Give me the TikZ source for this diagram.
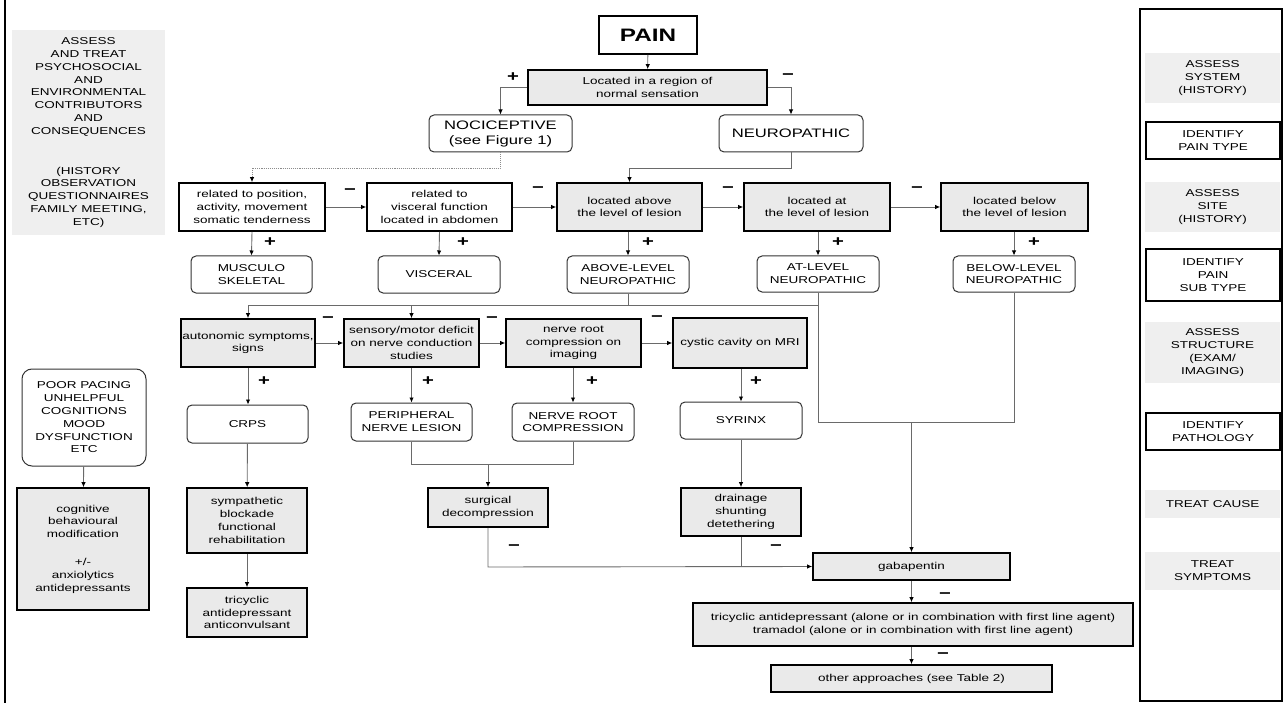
\documentclass[tikz,border=0pt]{standalone}
\usepackage{fontspec}
\setmainfont{Liberation Sans}[FakeStretch=1.35]
\usetikzlibrary{arrows.meta}

\definecolor{boxgray}{HTML}{EAEAEA}
\definecolor{panelgray}{HTML}{EFEFEF}
\definecolor{wiregray}{HTML}{6A6A6A}

\newcommand{\boxtxt}{\fontsize{10}{12.8}\selectfont}
\newcommand{\bigtxt}{\fontsize{12.3}{15}\selectfont}
\newcommand{\sgntxt}{\fontsize{15}{15}\bfseries\selectfont}

\begin{document}
\begin{tikzpicture}[x=1pt,y=-1pt,
  box/.style={draw, line width=1.6pt, align=center, inner sep=1pt, font=\boxtxt},
  gbox/.style={box, fill=boxgray},
  rbox/.style={draw=black!80, line width=1pt, rounded corners=5pt, align=center, inner sep=1pt, font=\boxtxt},
  panel/.style={fill=panelgray, align=center, inner sep=1pt, font=\boxtxt},
  wire/.style={draw=wiregray, line width=0.9pt},
  arr/.style={wire, -{Latex[length=5pt,width=4.5pt,color=black]}},
  sgn/.style={font=\sgntxt, inner sep=0pt}]
\useasboundingbox (0,0) rectangle (1284,703);

% frames
\draw[line width=1.4pt] (5,0) -- (5,703);
\draw[line width=1.6pt] (1140,9) rectangle (1282,701);

% left column
\node[panel, minimum width=153, minimum height=205] (psy) at (88.5,132.5)
  {ASSESS\\AND TREAT\\PSYCHOSOCIAL\\AND\\ENVIRONMENTAL\\CONTRIBUTORS\\AND\\CONSEQUENCES\\[27pt]
   (HISTORY\\OBSERVATION\\QUESTIONNAIRES\\FAMILY MEETING,\\ETC)};
\node[rbox, rounded corners=10pt, minimum width=124, minimum height=97] (poor) at (84,417.5)
  {POOR PACING\\UNHELPFUL\\COGNITIONS\\MOOD\\DYSFUNCTION\\ETC};
\node[gbox, minimum width=132, minimum height=122] (cbt) at (83,549)
  {cognitive\\behavioural\\modification\\[15pt]+/-\\anxiolytics\\antidepressants};

% top
\node[box, minimum width=98, minimum height=38, font=\fontsize{18}{18}\bfseries\selectfont] (pain) at (648,35) {PAIN};
\node[gbox, minimum width=239, minimum height=35] (region) at (647.5,87.5) {Located in a region of\\normal sensation};
\node[rbox, minimum width=143, minimum height=37, font=\bigtxt] (noci) at (500.5,133.5) {NOCICEPTIVE\\(see Figure 1)};
\node[rbox, minimum width=144, minimum height=37, font=\bigtxt] (neuro) at (791,133.5) {NEUROPATHIC};

% site row
\node[box, minimum width=146, minimum height=48] (pos) at (252,207) {related to position,\\activity, movement\\somatic tenderness};
\node[box, minimum width=145, minimum height=48] (visc) at (439.5,207) {related to\\visceral function\\located in abdomen};
\node[gbox, minimum width=145, minimum height=48] (above) at (629.5,207) {located above\\the level of lesion};
\node[gbox, minimum width=146, minimum height=48] (at) at (817,207) {located at\\the level of lesion};
\node[gbox, minimum width=147, minimum height=48] (below) at (1014.5,207) {located below\\the level of lesion};

\node[rbox, minimum width=121, minimum height=37] (musc) at (251.5,274.5) {MUSCULO\\SKELETAL};
\node[rbox, minimum width=122, minimum height=37] (viscN) at (439,274.5) {VISCERAL};
\node[rbox, minimum width=122, minimum height=37] (aboveN) at (628,274.5) {ABOVE-LEVEL\\NEUROPATHIC};
\node[rbox, minimum width=122, minimum height=36] (atN) at (818,274) {AT-LEVEL\\NEUROPATHIC};
\node[rbox, minimum width=122, minimum height=36] (belowN) at (1014,274) {BELOW-LEVEL\\NEUROPATHIC};

% structure row
\node[gbox, minimum width=134, minimum height=48] (auto) at (248,343) {autonomic symptoms,\\signs};
\node[gbox, minimum width=135, minimum height=48] (sens) at (411.5,343) {sensory/motor deficit\\on nerve conduction\\studies};
\node[gbox, minimum width=135, minimum height=48] (root) at (573.5,343) {nerve root\\compression on\\imaging};
\node[gbox, minimum width=134, minimum height=50] (cyst) at (740,343) {cystic cavity on MRI};

\node[rbox, minimum width=121, minimum height=38] (crps) at (247.5,424) {CRPS};
\node[rbox, minimum width=121, minimum height=38] (periph) at (411.5,422) {PERIPHERAL\\NERVE LESION};
\node[rbox, minimum width=122, minimum height=38] (nroot) at (573,422) {NERVE ROOT\\COMPRESSION};
\node[rbox, minimum width=122, minimum height=37] (syrinx) at (741,420.5) {SYRINX};

% treatment
\node[gbox, minimum width=120, minimum height=65] (symp) at (247,520.5) {sympathetic\\blockade\\functional\\rehabilitation};
\node[gbox, minimum width=120, minimum height=49] (tcac) at (247,612.5) {tricyclic\\antidepressant\\anticonvulsant};
\node[gbox, minimum width=120, minimum height=39] (surg) at (488,507.5) {surgical\\decompression};
\node[gbox, minimum width=120, minimum height=48] (drain) at (741,512) {drainage\\shunting\\detethering};
\node[gbox, minimum width=197, minimum height=27] (gaba) at (911.5,566.5) {gabapentin};
\node[gbox, minimum width=440, minimum height=43] (tca) at (913,624.5)
  {tricyclic antidepressant (alone or in combination with first line agent)\\tramadol (alone or in combination with first line agent)};
\node[gbox, minimum width=281, minimum height=27] (other) at (911.5,678.5) {other approaches (see Table 2)};

% right column
\node[panel, minimum width=135, minimum height=50] (sys) at (1212.5,78) {ASSESS\\SYSTEM\\(HISTORY)};
\node[box, minimum width=134, minimum height=37] (ptype) at (1213,140.5) {IDENTIFY\\PAIN TYPE};
\node[panel, minimum width=135, minimum height=50] (site) at (1212.5,207) {ASSESS\\SITE\\(HISTORY)};
\node[box, minimum width=134, minimum height=52] (subtype) at (1213,275) {IDENTIFY\\PAIN\\SUB TYPE};
\node[panel, minimum width=135, minimum height=61] (struct) at (1212.5,352.5) {ASSESS\\STRUCTURE\\(EXAM/\\IMAGING)};
\node[box, minimum width=134, minimum height=37] (patho) at (1213,431.5) {IDENTIFY\\PATHOLOGY};
\node[panel, minimum width=135, minimum height=28] (tcause) at (1212.5,504) {TREAT CAUSE};
\node[panel, minimum width=135, minimum height=38] (tsym) at (1212.5,571) {TREAT\\SYMPTOMS};

% junctions
\coordinate (yt) at (0,168);
\coordinate (ybus) at (0,305);
\coordinate (yj) at (0,422);
\coordinate (yd) at (0,464);
\coordinate (yg) at (0,567);

% connectors
\draw[arr] (pain) -- (region);
\draw[arr] (region.west) -| (noci.north);
\draw[arr] (region.east) -| (neuro.north);
\node[sgn] (s1) at (513,77) {+};
\node[sgn] (s2) at (788,77) {−};

\draw[wire, draw=black!45, densely dotted, -{Latex[length=5pt,width=4.5pt,color=black]}]
  (noci.south) -- (noci.south |- yt) -| (pos.north);
\draw[arr] (neuro.south) -- (neuro.south |- yt) -| (above.north);

\draw[arr] (pos) -- (visc);
\draw[arr] (visc) -- (above);
\draw[arr] (above) -- (at);
\draw[arr] (at) -- (below);
\node[sgn] (m1) at (350,192) {−};
\node[sgn] (m2) at (538,190) {−};
\node[sgn] (m3) at (728,190) {−};
\node[sgn] (m4) at (917,190) {−};

\draw[arr] (pos.south) -- (musc.north);
\draw[arr] (visc.south) -- (viscN.north);
\draw[arr] (above.south -| aboveN.north) -- (aboveN.north);
\draw[arr] (at.south -| atN.north) -- (atN.north);
\draw[arr] (below.south -| belowN.north) -- (belowN.north);
\node[sgn] (p1) at (270,242) {+};
\node[sgn] (p2) at (463,242) {+};
\node[sgn] (p3) at (648,242) {+};
\node[sgn] (p4) at (838,242) {+};
\node[sgn] (p5) at (1034,242) {+};

\draw[wire] (aboveN.south) -- (aboveN.south |- ybus);
\draw[wire] (auto.north |- ybus) -- (atN.south |- ybus);
\draw[arr] (auto.north |- ybus) -- (auto.north);
\draw[arr] (sens.north |- ybus) -- (sens.north);
\draw[wire] (atN.south) -- (atN.south |- yj) -- (belowN.south |- yj) -- (belowN.south);
\draw[arr] (gaba.north |- yj) -- (gaba.north);

\draw[arr] (auto) -- (sens);
\draw[arr] (sens) -- (root);
\draw[arr] (root) -- (cyst);
\node[sgn] (m5) at (328,320) {−};
\node[sgn] (m6) at (492,320) {−};
\node[sgn] (m7) at (657,319) {−};

\draw[arr] (auto.south) -- (auto.south |- crps.north);
\draw[arr] (sens.south) -- (sens.south |- periph.north);
\draw[arr] (root.south -| nroot.north) -- (nroot.north);
\draw[arr] (cyst.south -| syrinx.north) -- (syrinx.north);
\node[sgn] (p6) at (264,381) {+};
\node[sgn] (p7) at (428,381) {+};
\node[sgn] (p8) at (592,381) {+};
\node[sgn] (p9) at (756,381) {+};

\draw[arr] (crps) -- (symp);
\draw[arr] (symp) -- (tcac);
\draw[arr] (poor) -- (cbt);

\draw[wire] (periph.south) -- (periph.south |- yd) -- (nroot.south |- yd) -- (nroot.south);
\draw[arr] (surg.north |- yd) -- (surg.north);
\draw[arr] (syrinx) -- (drain);
\draw[arr] (surg.south) -- (surg.south |- yg) -- (gaba.west);
\draw[wire] (drain.south) -- (drain.south |- yg);
\node[sgn] (m8) at (514,548) {−};
\node[sgn] (m9) at (776,548) {−};

\draw[arr] (gaba.south) -- (gaba.south |- tca.north);
\draw[arr] (tca.south -| other.north) -- (other.north);
\node[sgn] (m10) at (945,596) {−};
\node[sgn] (m11) at (943,656) {−};
\end{tikzpicture}
\end{document}
